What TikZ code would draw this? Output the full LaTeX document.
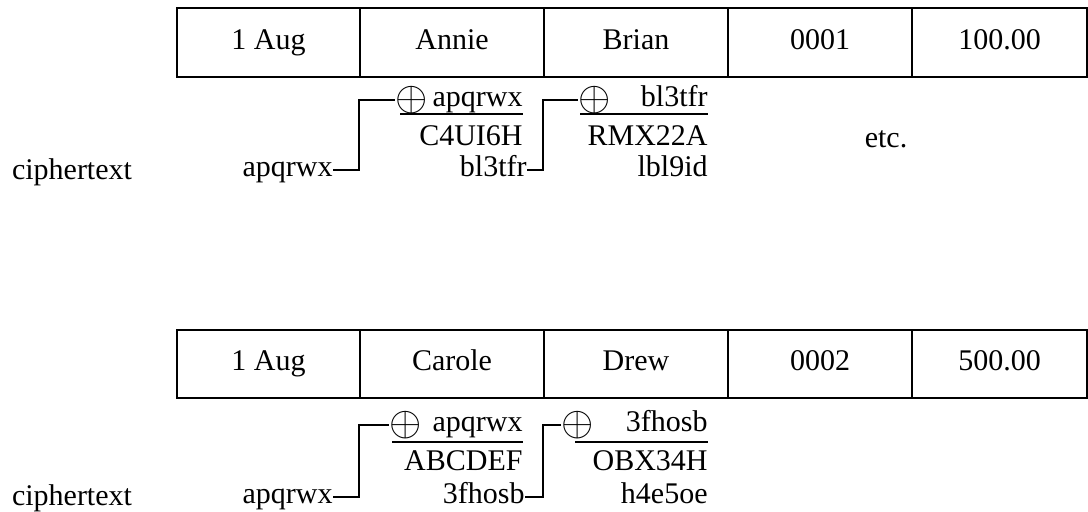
\documentclass[tikz,border=0pt]{standalone}
\usepackage{fontspec}
\setmainfont{Liberation Serif}
\tikzset{
    cell/.style={draw, line width=1.3pt, inner sep=0pt, text height=10pt, text depth=3.2pt},
    word/.style={inner sep=0pt, text height=10pt, text depth=3.2pt, anchor=east},
    xorsign/.style={inner sep=0pt, font=\fontsize{21}{21}\selectfont},
    link/.style={line width=1.1pt},
    sumbar/.style={line width=0.9pt}
}
\begin{document}
\begin{tikzpicture}[x=0.5pt, y=-0.5pt, font=\fontsize{15}{18}\selectfont]
\useasboundingbox (0,0) rectangle (1088,512);
% first record
\foreach \n/\x/\w/\t in {1/268.5/183/1 Aug, 2/452/184/Annie, 3/636/184/Brian, 4/820/184/0001, 5/999.5/175/100.00}
    \node[cell, minimum width=\w*0.5pt, minimum height=34.5pt] (top\n) at (\x,42.5) {\t};
\node (topciph) at (72,172) {ciphertext};
\node[word] (topkey1) at (333,170) {apqrwx};
\node[xorsign] (topxor1) at (412,100) {$\oplus$};
\node[word] (topin1) at (523,100) {apqrwx};
\node[word] (topout1) at (523,139) {C4UI6H};
\node[word] (topkey2) at (527,170) {bl3tfr};
\node[xorsign] (topxor2) at (595,100) {$\oplus$};
\node[word] (topin2) at (708,100) {bl3tfr};
\node[word] (topout2) at (708,139) {RMX22A};
\node[word] (topkey3) at (708,170) {lbl9id};
\node (topetc) at (886,139) {etc.};
\draw[sumbar] (400,114) -- (523,114);
\draw[sumbar] (580,114) -- (708,114);
\draw[link] (topkey1.east) -| (topxor1 -| top2.west) -- (topxor1.west);
\draw[link] (topkey2.east) -| (topxor2 -| top3.west) -- (topxor2.west);
% second record
\foreach \n/\x/\w/\t in {1/268.5/183/1 Aug, 2/452/184/Carole, 3/636/184/Drew, 4/820/184/0002, 5/999.5/175/500.00}
    \node[cell, minimum width=\w*0.5pt, minimum height=34pt] (bot\n) at (\x,364) {\t};
\node (botciph) at (72,498) {ciphertext};
\node[word] (botkey1) at (333,497) {apqrwx};
\node[xorsign] (botxor1) at (406,425) {$\oplus$};
\node[word] (botin1) at (523,425) {apqrwx};
\node[word] (botout1) at (523,464) {ABCDEF};
\node[word] (botkey2) at (525,497) {3fhosb};
\node[xorsign] (botxor2) at (578,425) {$\oplus$};
\node[word] (botin2) at (708,425) {3fhosb};
\node[word] (botout2) at (708,464) {OBX34H};
\node[word] (botkey3) at (708,497) {h4e5oe};
\draw[sumbar] (392,442) -- (523,442);
\draw[sumbar] (575,442) -- (708,442);
\draw[link] (botkey1.east) -| (botxor1 -| bot2.west) -- (botxor1.west);
\draw[link] (botkey2.east) -| (botxor2 -| bot3.west) -- (botxor2.west);
\end{tikzpicture}
\end{document}
